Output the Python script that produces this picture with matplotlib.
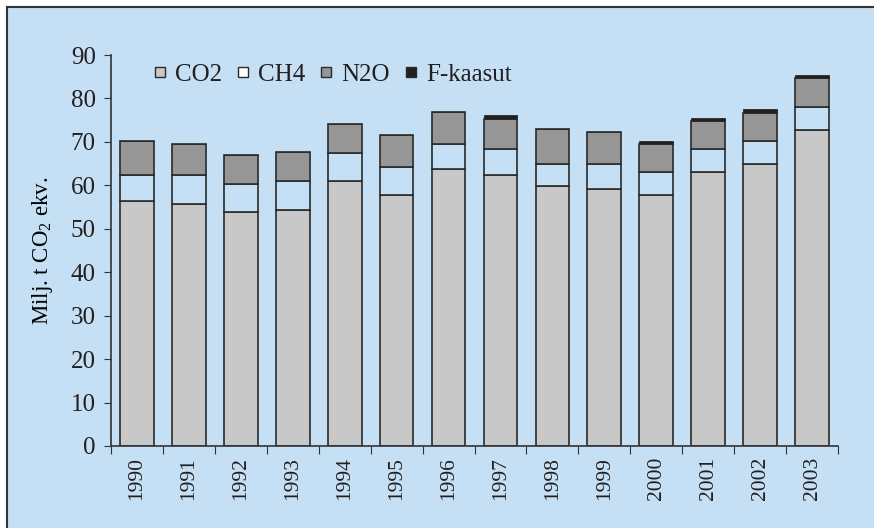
import matplotlib.pyplot as plt
import numpy as np
from matplotlib.lines import Line2D

years = ['1990', '1991', '1992', '1993', '1994', '1995', '1996',
         '1997', '1998', '1999', '2000', '2001', '2002', '2003']
# cumulative tops
co2_top = [56.4, 55.7, 53.9, 54.4, 61.0, 57.8, 63.7, 62.4, 59.8, 59.1, 57.8, 63.0, 65.0, 72.8]
ch4_top = [62.3, 62.3, 60.3, 61.0, 67.5, 64.3, 69.5, 68.3, 64.9, 64.9, 63.0, 68.3, 70.2, 78.0]
n2o_top = [70.2, 69.6, 66.9, 67.6, 74.1, 71.5, 76.8, 75.3, 72.9, 72.2, 69.4, 74.7, 76.7, 84.6]
f_top   = [70.2, 69.6, 66.9, 67.6, 74.1, 71.5, 76.8, 76.1, 72.9, 72.2, 70.3, 75.6, 77.5, 85.4]

co2 = np.array(co2_top)
ch4 = np.array(ch4_top) - co2
n2o = np.array(n2o_top) - np.array(ch4_top)
fgas = np.array(f_top) - np.array(n2o_top)

bg = '#c5e0f4'
edge = '#2a2a2a'
txt = '#231f20'
plt.rcParams['font.family'] = ['Liberation Serif', 'DejaVu Serif']
plt.rcParams['text.color'] = txt
plt.rcParams['xtick.color'] = '#333333'
plt.rcParams['ytick.color'] = '#333333'
plt.rcParams['xtick.labelcolor'] = txt
plt.rcParams['ytick.labelcolor'] = txt
plt.rcParams['mathtext.fontset'] = 'custom'
plt.rcParams['mathtext.rm'] = 'Liberation Serif'

fig = plt.figure(figsize=(8.74, 5.28), dpi=100, facecolor='white')
# light blue panel with border on top/left
panel = fig.add_axes([7 / 874, 0, 1 - 7 / 874, 1 - 7 / 528])
panel.set_facecolor(bg)
panel.set_xticks([])
panel.set_yticks([])
panel.spines['right'].set_visible(False)
panel.spines['bottom'].set_visible(False)
for s in ['top', 'left']:
    panel.spines[s].set_color('#333333')
    panel.spines[s].set_linewidth(1.5)

ax = fig.add_axes([111 / 874, 1 - 446 / 528, 727 / 874, 391 / 528])
ax.set_facecolor('none')

x = np.arange(len(years))
w = 0.65
kw = dict(width=w, edgecolor=edge, linewidth=1.2)
ax.bar(x, co2, color='#c8c8c8', label='CO2', **kw)
ax.bar(x, ch4, bottom=co2, color=bg, label='CH4', **kw)
ax.bar(x, n2o, bottom=co2 + ch4, color='#969696', label='N2O', **kw)
ax.bar(x, fgas, bottom=co2 + ch4 + n2o, color='#231f20', label='F-kaasut',
       width=w, edgecolor=edge, linewidth=0.6)

ax.set_xlim(-0.5, len(years) - 0.5)
ax.set_ylim(0, 90)
ax.set_yticks(range(0, 91, 10))
ax.set_xticks(np.arange(-0.5, len(years), 1.0))
ax.set_xticklabels([])
ax.set_xticks(x, minor=True)
ax.set_xticklabels(years, minor=True, rotation=90, fontsize=15.5)
ax.tick_params(axis='x', which='minor', length=0, pad=8)
ax.tick_params(axis='x', which='major', length=6, direction='out')
ax.tick_params(axis='y', length=5, direction='out', labelsize=18, pad=6)
for s in ['top', 'right']:
    ax.spines[s].set_visible(False)
for s in ['left', 'bottom']:
    ax.spines[s].set_color('#333333')
    ax.spines[s].set_linewidth(1.2)

ax.set_ylabel('Milj. t CO$_2$ ekv.', fontsize=16.5, labelpad=11)

def sq(fc, lab):
    return Line2D([], [], linestyle='none', marker='s', markersize=7.5,
                  markerfacecolor=fc, markeredgecolor=edge, markeredgewidth=1.0, label=lab)

handles = [sq('#c8c8c8', 'CO2'), sq('white', 'CH4'),
           sq('#969696', 'N2O'), sq('#231f20', 'F-kaasut')]
ax.legend(handles=handles, loc='center left', bbox_to_anchor=(0.06, 0.949), ncol=4,
          frameon=False, fontsize=18, handlelength=0.4, handletextpad=0.4,
          columnspacing=0.65, borderpad=0, borderaxespad=0)

fig.savefig('out.png', dpi=100, facecolor=fig.get_facecolor())
